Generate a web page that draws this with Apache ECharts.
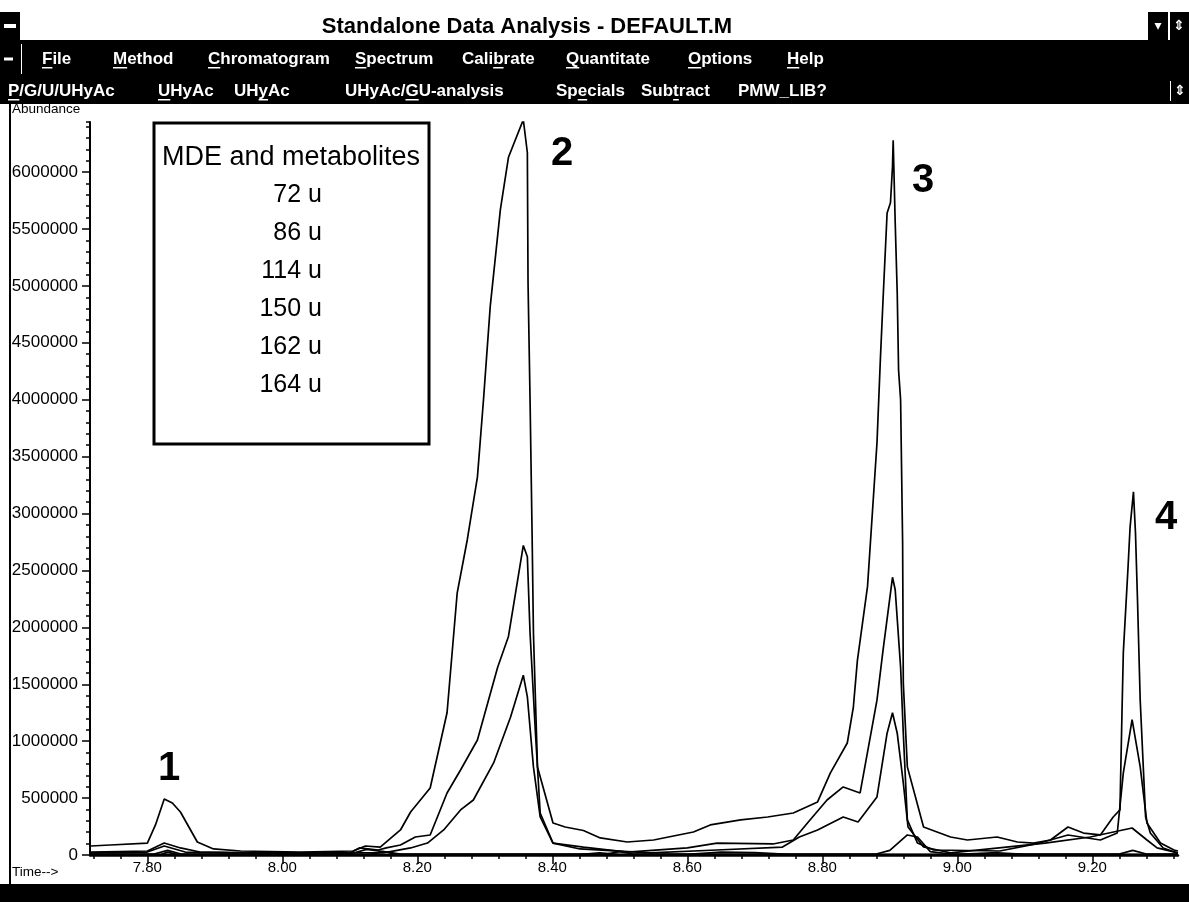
<!DOCTYPE html>
<html><head><meta charset="utf-8">
<script src="https://cdn.jsdelivr.net/npm/echarts@6/dist/echarts.min.js"></script>
<style>html,body{margin:0;padding:0;background:#fff;overflow:hidden}#c{width:1189px;height:902px}</style>
</head><body><div id="c"></div>
<script>
// ---- data: [time (min), abundance] ----
const ion72 = [[7.716,79000],[7.745,88000],[7.800,105000],[7.812,264000],[7.825,492000],[7.837,457000],[7.849,378000],[7.874,114000],[7.898,53000],[7.938,35000],[8.027,26000],[8.105,35000],[8.123,79000],[8.145,70000],[8.175,220000],[8.190,378000],[8.219,589000],[8.244,1250000],[8.259,2300000],[8.274,2770000],[8.289,3320000],[8.298,4000000],[8.308,4820000],[8.323,5670000],[8.335,6130000],[8.357,6460000],[8.363,6170000],[8.364,5030000],[8.367,4000000],[8.370,2830000],[8.372,1950000],[8.378,774000],[8.401,281000],[8.419,246000],[8.446,215000],[8.471,150000],[8.511,114000],[8.550,132000],[8.609,202000],[8.634,264000],[8.679,308000],[8.719,334000],[8.757,369000],[8.793,466000],[8.812,721000],[8.837,984000],[8.846,1300000],[8.852,1710000],[8.867,2360000],[8.881,3620000],[8.886,4350000],[8.890,4880000],[8.896,5640000],[8.901,5730000],[8.904,6050000],[8.905,6280000],[8.908,5560000],[8.911,4940000],[8.913,4260000],[8.916,4000000],[8.919,2740000],[8.920,1510000],[8.926,774000],[8.950,246000],[8.990,158000],[9.015,132000],[9.059,158000],[9.089,114000],[9.113,105000],[9.138,132000],[9.164,246000],[9.187,193000],[9.212,176000],[9.231,334000],[9.241,396000],[9.244,1250000],[9.246,1780000],[9.253,2530000],[9.256,2880000],[9.261,3190000],[9.264,2830000],[9.267,2240000],[9.271,1360000],[9.279,334000],[9.286,193000],[9.305,62000],[9.326,18000]];
const ion86 = [[7.716,26000],[7.800,35000],[7.825,105000],[7.849,62000],[7.878,26000],[7.952,18000],[8.100,18000],[8.114,62000],[8.142,44000],[8.154,62000],[8.175,88000],[8.197,158000],[8.219,176000],[8.244,545000],[8.264,747000],[8.289,1010000],[8.319,1650000],[8.335,1920000],[8.357,2720000],[8.363,2620000],[8.367,1950000],[8.375,1070000],[8.382,369000],[8.401,105000],[8.446,70000],[8.511,26000],[8.600,62000],[8.644,105000],[8.727,97000],[8.757,132000],[8.778,281000],[8.807,483000],[8.831,598000],[8.856,545000],[8.881,1360000],[8.890,1800000],[8.904,2440000],[8.908,2330000],[8.916,1650000],[8.920,1070000],[8.926,308000],[8.941,105000],[8.965,44000],[9.063,35000],[9.122,105000],[9.164,176000],[9.212,132000],[9.237,193000],[9.246,721000],[9.259,1190000],[9.271,774000],[9.281,281000],[9.301,105000],[9.321,44000],[9.327,35000]];
const ion114 = [[7.716,18000],[7.800,26000],[7.825,79000],[7.856,26000],[7.950,18000],[8.150,18000],[8.190,62000],[8.215,105000],[8.239,220000],[8.264,396000],[8.283,483000],[8.313,809000],[8.338,1210000],[8.357,1580000],[8.363,1390000],[8.372,774000],[8.382,334000],[8.401,105000],[8.441,53000],[8.545,18000],[8.644,44000],[8.741,70000],[8.766,158000],[8.793,220000],[8.831,334000],[8.853,290000],[8.881,510000],[8.896,1070000],[8.904,1250000],[8.911,1070000],[8.920,633000],[8.927,246000],[8.950,70000],[8.990,18000],[9.130,105000],[9.197,158000],[9.259,237000],[9.281,132000],[9.296,62000],[9.327,18000]];
const ion150 = [[7.716,9000],[7.810,9000],[7.830,40000],[7.850,9000],[8.100,9000],[8.125,50000],[8.150,30000],[8.175,9000],[8.480,9000],[8.500,30000],[8.520,9000],[8.880,9000],[8.900,40000],[8.926,176000],[8.941,158000],[8.960,30000],[8.990,9000],[9.240,9000],[9.260,40000],[9.280,9000],[9.327,9000]];
const ion162 = [[7.716,5000],[8.130,5000],[8.150,30000],[8.170,5000],[8.600,5000],[8.650,25000],[8.700,20000],[8.750,5000],[9.000,5000],[9.060,20000],[9.100,5000],[9.327,5000]];
const ion164 = [[7.716,3000],[7.820,3000],[7.830,25000],[7.845,3000],[8.440,3000],[8.470,20000],[8.500,3000],[9.150,3000],[9.327,3000]];
const ionLabels = ['72 u','86 u','114 u','150 u','162 u','164 u'];
const xMajorTicks = [7.8,8.0,8.2,8.4,8.6,8.8,9.0,9.2];
const xMinorTicks = [7.72,7.76,7.80,7.84,7.88,7.92,7.96,8.00,8.04,8.08,8.12,8.16,8.20,8.24,8.28,8.32,8.36,8.40,8.44,8.48,8.52,8.56,8.60,8.64,8.68,8.72,8.76,8.80,8.84,8.88,8.92,8.96,9.00,9.04,9.08,9.12,9.16,9.20,9.24,9.28,9.32];
const yMajorTicks = [0,500000,1000000,1500000,2000000,2500000,3000000,3500000,4000000,4500000,5000000,5500000,6000000];
const peakLabels = ['1','2','3','4'];
const menuItems = ['File','Method','Chromatogram','Spectrum','Calibrate','Quantitate','Options','Help'];
const menuUnderline = [0,0,0,0,4,0,0,0];
const toolItems = ['P/G/U/UHyAc','UHyAc','UHyAc','UHyAc/GU-analysis','Specials','Subtract','PMW_LIB?'];
const toolUnderline = [0,0,2,6,2,3,-1];
const windowTitle = 'Standalone Data Analysis - DEFAULT.M';
const boxTitle = 'MDE and metabolites';

// ---- layout (pixels) ----
const menuX = [42,113,208,355,462,566,688,787];
const toolX = [8,158,234,345,556,641,738];
const peakPos = [[169,769],[562,154],[923,181],[1166,518]];
const ionY = [195,233,271,309,347,385];
const TITLE_Y0 = 12, TITLE_Y1 = 40, MENU_Y1 = 78, TOOL_Y1 = 104;

const chart = echarts.init(document.getElementById('c'), null, {renderer:'canvas'});
const FONT = '"Liberation Sans", Arial, sans-serif';
const black = '#000';
const ctr = {align:'center', verticalAlign:'middle', textAlign:'center', textVerticalAlign:'middle'};
const lft = {align:'left', verticalAlign:'middle', textAlign:'left', textVerticalAlign:'middle'};
const rgt = {align:'right', verticalAlign:'middle', textAlign:'right', textVerticalAlign:'middle'};
const mctx = document.createElement('canvas').getContext('2d');

const g = [];
function barText(text, ulIdx, x, y, font){
  g.push({type:'text', x:x, y:y, style:Object.assign({text:text, fill:'#fff', font:font}, lft)});
  if (ulIdx >= 0){
    mctx.font = font;
    const x0 = x + mctx.measureText(text.slice(0, ulIdx)).width;
    const w = mctx.measureText(text.charAt(ulIdx)).width;
    g.push({type:'rect', shape:{x:x0, y:y+8, width:w, height:1.5}, style:{fill:'#fff'}});
  }
}
// title bar
g.push({type:'rect', shape:{x:0,y:TITLE_Y0,width:20,height:TITLE_Y1-TITLE_Y0}, style:{fill:black}});
g.push({type:'rect', shape:{x:4,y:(TITLE_Y0+TITLE_Y1)/2-2,width:12,height:4}, style:{fill:'#fff'}});
g.push({type:'rect', shape:{x:1148,y:TITLE_Y0,width:20,height:TITLE_Y1-TITLE_Y0}, style:{fill:black}});
g.push({type:'rect', shape:{x:1170,y:TITLE_Y0,width:19,height:TITLE_Y1-TITLE_Y0}, style:{fill:black}});
g.push({type:'text', x:1158, y:(TITLE_Y0+TITLE_Y1)/2, style:Object.assign({text:'▾', fill:'#fff', font:'bold 14px "DejaVu Sans"'}, ctr)});
g.push({type:'text', x:1179, y:(TITLE_Y0+TITLE_Y1)/2, style:Object.assign({text:'⇕', fill:'#fff', font:'bold 14px "DejaVu Sans"'}, ctr)});
g.push({type:'text', x:527, y:(TITLE_Y0+TITLE_Y1)/2+1, style:Object.assign({text:windowTitle, fill:black, font:'bold 22px '+FONT}, ctr)});
// menu bar
g.push({type:'rect', shape:{x:0,y:TITLE_Y1,width:1189,height:MENU_Y1-TITLE_Y1}, style:{fill:black}});
g.push({type:'rect', shape:{x:4,y:(TITLE_Y1+MENU_Y1)/2-1.5,width:9,height:3}, style:{fill:'#fff'}});
g.push({type:'rect', shape:{x:21,y:TITLE_Y1+4,width:1,height:MENU_Y1-TITLE_Y1-8}, style:{fill:'#fff'}});
menuItems.forEach((m,i)=>barText(m, menuUnderline[i], menuX[i], (TITLE_Y1+MENU_Y1)/2, 'bold 17px '+FONT));
// tool bar
g.push({type:'rect', shape:{x:0,y:MENU_Y1,width:1189,height:TOOL_Y1-MENU_Y1}, style:{fill:black}});
toolItems.forEach((m,i)=>barText(m, toolUnderline[i], toolX[i], (MENU_Y1+TOOL_Y1)/2, 'bold 17px '+FONT));
g.push({type:'rect', shape:{x:1170,y:MENU_Y1+3,width:1,height:TOOL_Y1-MENU_Y1-6}, style:{fill:'#fff'}});
g.push({type:'text', x:1180, y:(MENU_Y1+TOOL_Y1)/2, style:Object.assign({text:'⇕', fill:'#fff', font:'bold 14px "DejaVu Sans"'}, ctr)});
// window left border and bottom bar
g.push({type:'rect', shape:{x:9,y:TOOL_Y1,width:2,height:884-TOOL_Y1}, style:{fill:black}});
g.push({type:'rect', shape:{x:0,y:884,width:1189,height:18}, style:{fill:black}});
// axis names
g.push({type:'text', x:12, y:109, style:Object.assign({text:'Abundance', fill:black, font:'13.5px '+FONT}, lft)});
g.push({type:'text', x:12, y:872, style:Object.assign({text:'Time-->', fill:black, font:'13.5px '+FONT}, lft)});
// legend box
g.push({type:'rect', shape:{x:154,y:123,width:275,height:321}, style:{fill:'#fff', stroke:black, lineWidth:3}, z:10});
g.push({type:'text', x:291, y:158, z:11, style:Object.assign({text:boxTitle, fill:black, font:'27px '+FONT}, ctr)});
ionLabels.forEach((t,i)=>g.push({type:'text', x:322, y:ionY[i], z:11, style:Object.assign({text:t, fill:black, font:'25px '+FONT}, rgt)}));
// peak numbers
peakLabels.forEach((t,i)=>g.push({type:'text', x:peakPos[i][0], y:peakPos[i][1], z:11, style:Object.assign({text:t, fill:black, font:'bold 40px '+FONT}, ctr)}));

const X_MIN = 7.715, X_MAX = 9.327, Y_MAX = 6440000;
const series = [ion72, ion86, ion114, ion150, ion162, ion164].map((d,i)=>({
  name: ionLabels[i], type:'line', data:d, showSymbol:false, symbol:'none', animation:false,
  lineStyle:{color:black, width:1.7}, xAxisIndex:0, yAxisIndex:0, z:3
}));

chart.setOption({
  animation:false,
  backgroundColor:'#fff',
  grid:{left:90, right:11, top:122, bottom:47, outerBoundsMode:'none', containLabel:false},
  xAxis:[
    {type:'value', min:X_MIN, max:X_MAX, position:'bottom',
     axisLine:{show:true, onZero:false, lineStyle:{color:black, width:2.5}},
     axisTick:{show:true, inside:false, length:9, customValues:xMajorTicks, lineStyle:{color:black, width:1.5}},
     axisLabel:{show:true, customValues:xMajorTicks, margin:5, color:black, fontFamily:FONT, fontSize:15, formatter:v=>v.toFixed(2)},
     splitLine:{show:false}},
    {type:'value', min:X_MIN, max:X_MAX, position:'bottom',
     axisLine:{show:false, onZero:false},
     axisTick:{show:true, length:4, customValues:xMinorTicks, lineStyle:{color:black, width:1.5}},
     axisLabel:{show:false}, splitLine:{show:false}}
  ],
  yAxis:[
    {type:'value', min:0, max:Y_MAX, position:'left',
     axisLine:{show:true, onZero:false, lineStyle:{color:black, width:2}},
     axisTick:{show:true, length:8, customValues:yMajorTicks, lineStyle:{color:black, width:1.5}},
     axisLabel:{show:true, customValues:yMajorTicks, margin:12, color:black, fontFamily:FONT, fontSize:17, formatter:v=>String(Math.round(v))},
     splitLine:{show:false}},
    {type:'value', min:0, max:Y_MAX, interval:100000, position:'left',
     axisLine:{show:false, onZero:false},
     axisTick:{show:true, length:4, lineStyle:{color:black, width:1.5}},
     axisLabel:{show:false}, splitLine:{show:false}}
  ],
  series: series,
  graphic: g
});
</script>
</body></html>
